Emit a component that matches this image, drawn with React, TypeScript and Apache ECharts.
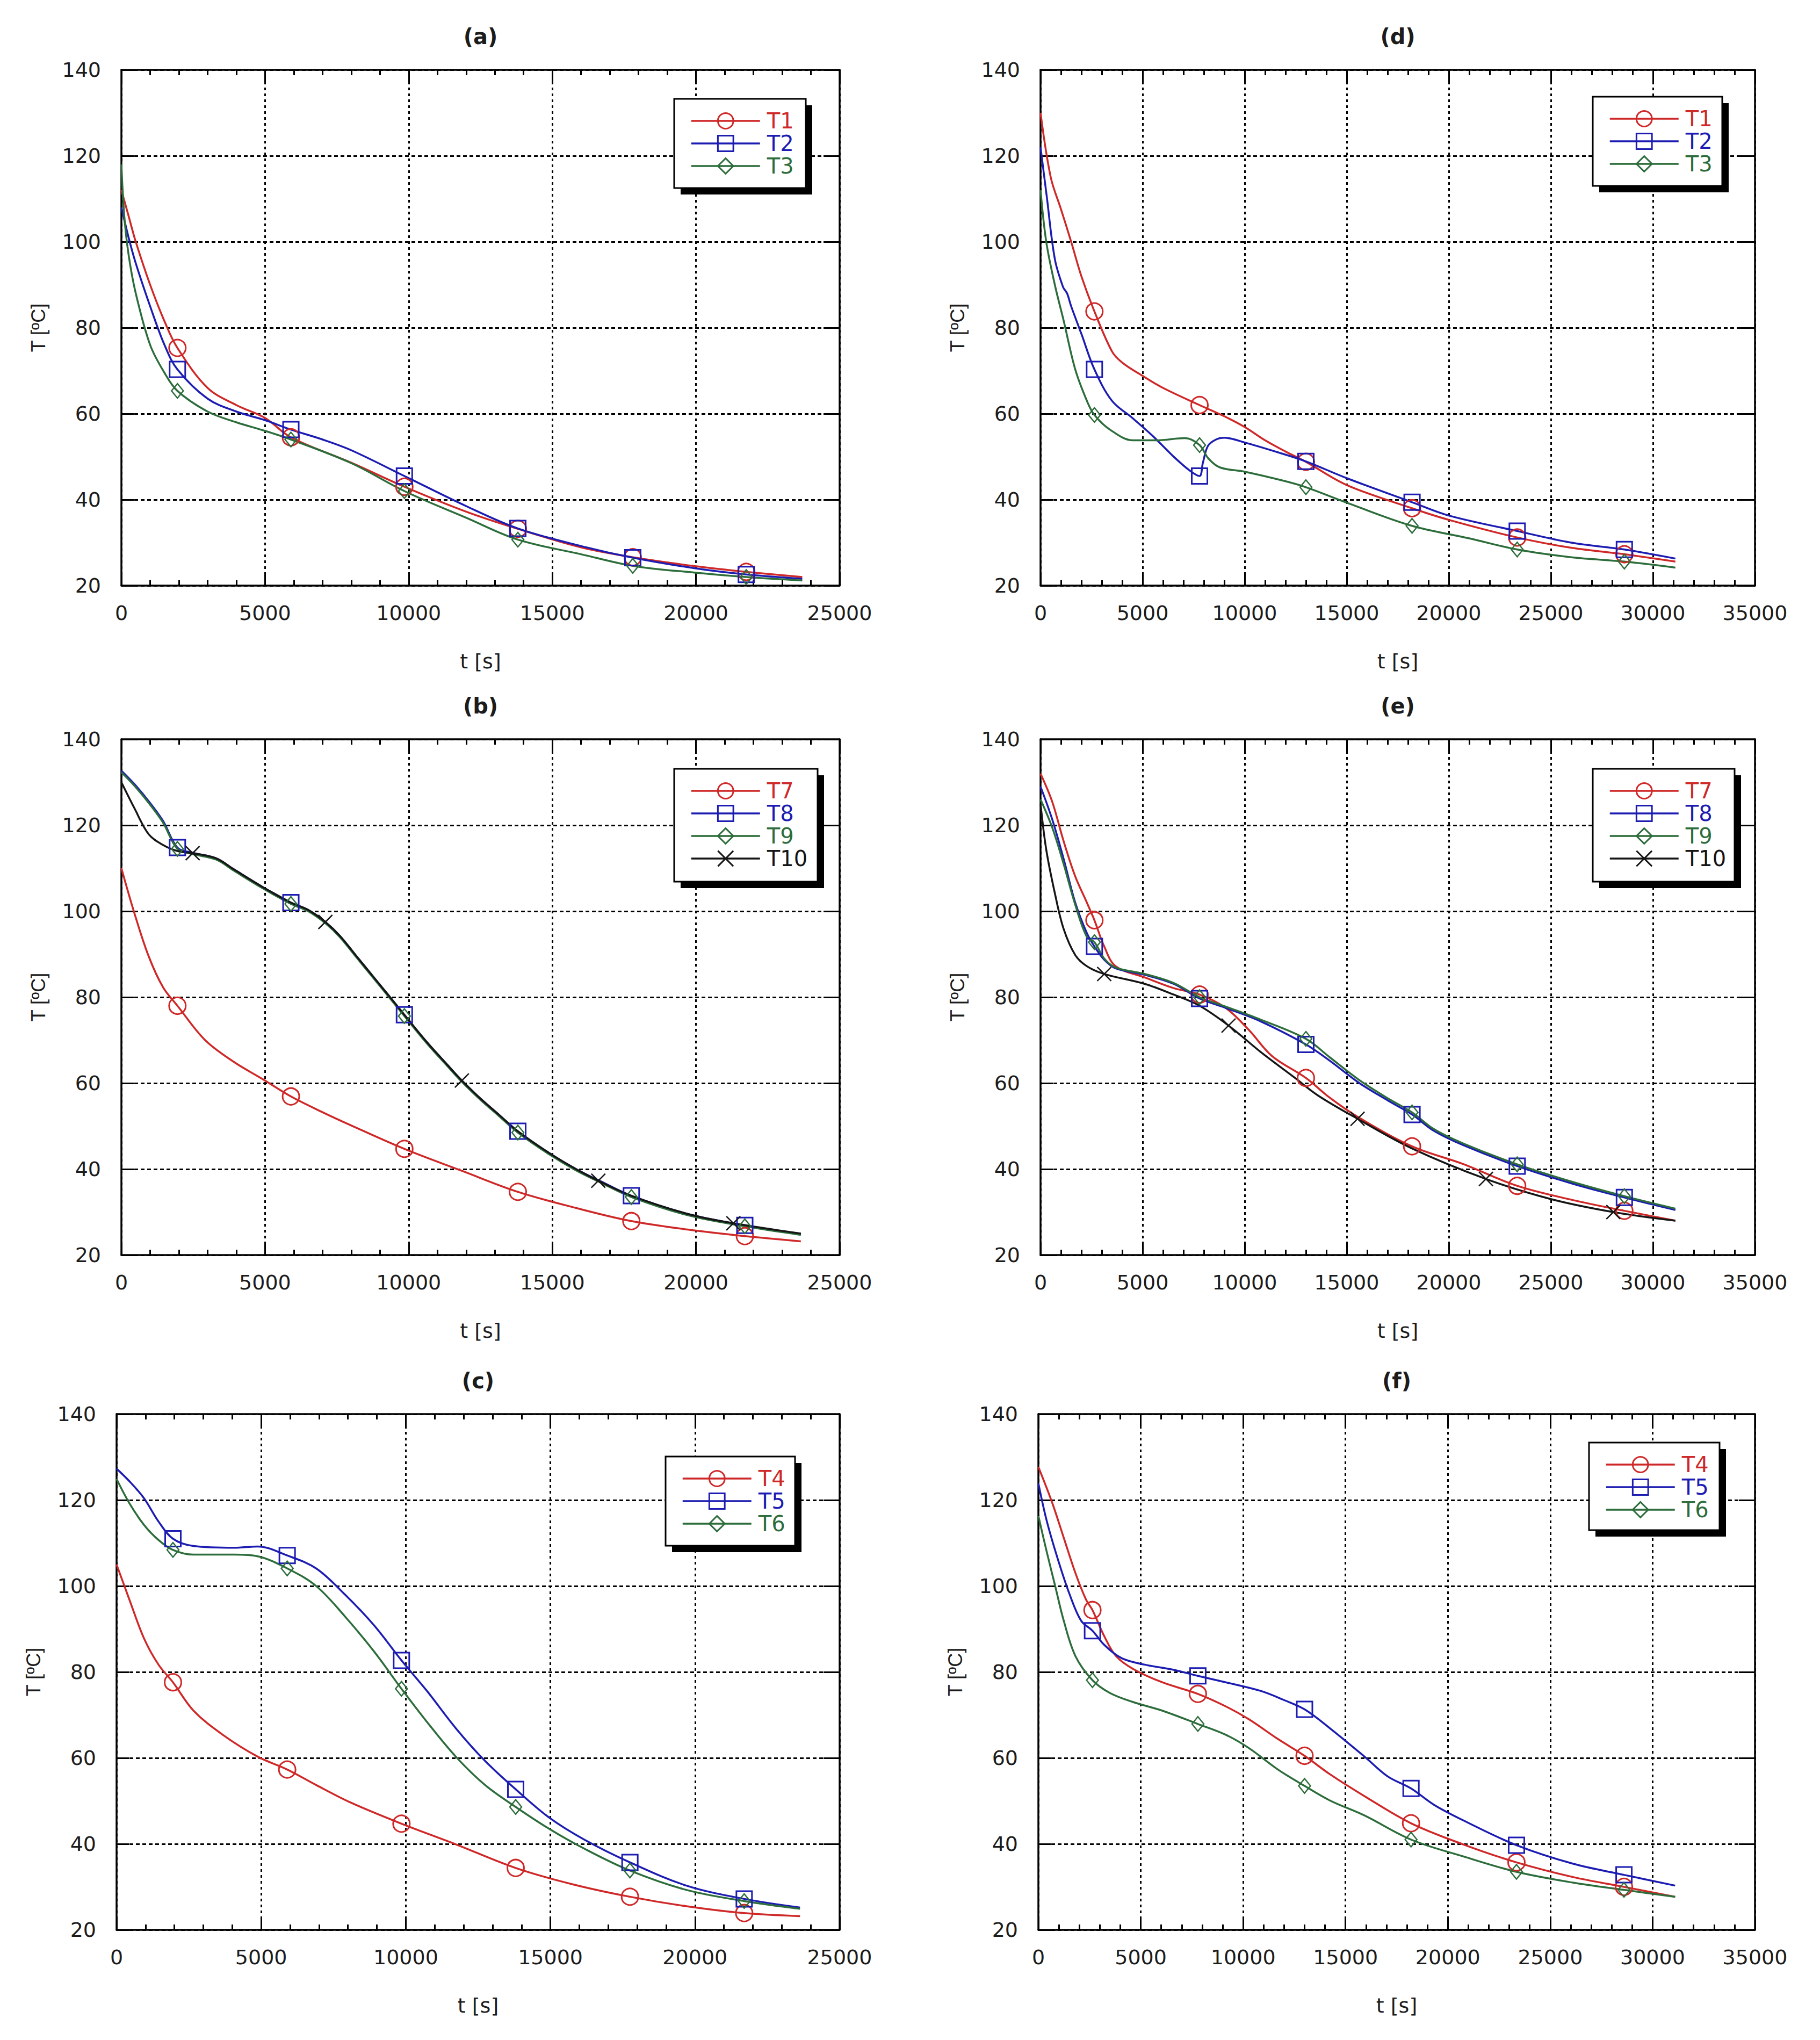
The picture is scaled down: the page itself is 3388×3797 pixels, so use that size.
import React, { useEffect, useRef } from "react";
import * as echarts from "echarts";

// ---------- panel (a) ----------
const A_MARK = [1950, 5900, 9850, 13800, 17800, 21750];
const A_T1_t = [0, 250, 500, 1000, 1500, 1950, 3000, 4000, 5000, 5900, 8000, 9850, 12000, 13800, 16000, 17800, 20000, 21750, 23700];
const A_T1 = [112, 106, 100, 90, 81.5, 75.3, 66, 62, 59, 54.5, 48.6, 43, 37.2, 33.2, 28.9, 26.6, 24.5, 23.2, 22];
const A_T2_t = [0, 250, 500, 1000, 1500, 1950, 3000, 4000, 5000, 5900, 7000, 8000, 9850, 12000, 13800, 16000, 17800, 20000, 21750, 23700];
const A_T2 = [108, 101, 95, 85, 76, 70.3, 63.5, 60.5, 58.5, 56.3, 54, 51.5, 45.5, 38.5, 33.3, 29.2, 26.5, 24, 22.6, 21.6];
const A_T3_t = [0, 100, 250, 500, 1000, 1500, 1950, 3000, 4000, 5000, 5900, 8000, 9850, 12000, 13800, 16000, 17800, 20000, 21750, 23700];
const A_T3 = [118, 106, 97, 88, 76, 69.5, 65.3, 60.5, 58, 56, 54, 48.5, 42, 35.8, 30.7, 27.3, 24.6, 23, 22, 21.2];

// ---------- panel (d) ----------
const D_MARK = [2640, 7790, 13000, 18200, 23350, 28600];
const D_T1_t = [0, 500, 1000, 1500, 2000, 2640, 3500, 4000, 5000, 6000, 7790, 9000, 10000, 11000, 12000, 13000, 15000, 18200, 20000, 23350, 26000, 28600, 31100];
const D_T1 = [130, 115, 107.6, 100, 92, 83.8, 74.5, 71.9, 68.8, 66, 62, 59.4, 56.9, 53.8, 51.2, 48.8, 43.4, 38, 35.3, 31.2, 28.8, 27.3, 25.6];
const D_T2_t = [0, 300, 700, 1100, 1300, 1500, 2000, 2640, 3500, 4500, 5500, 6500, 7300, 7790, 7950, 8200, 8600, 9000, 10000, 11500, 13000, 15000, 18200, 20000, 23350, 26000, 28600, 31100];
const D_T2 = [122, 110.7, 96, 89.5, 88, 85, 78.6, 70.3, 63, 59, 54.8, 50.1, 46.8, 45.5, 48.5, 52.5, 54, 54.4, 53.3, 51.2, 48.9, 45, 39.4, 36.3, 32.7, 30, 28.4, 26.3];
const D_T3_t = [0, 280, 700, 1130, 1700, 2270, 2640, 3400, 4530, 5670, 7080, 7790, 8220, 8790, 10000, 11900, 13000, 15000, 18200, 21000, 23350, 26000, 28600, 31100];
const D_T3 = [112, 100, 90, 81.7, 70.3, 63, 59.7, 56.3, 53.8, 53.8, 54.3, 52.7, 49.6, 47.5, 46.5, 44.4, 42.9, 39.3, 33.9, 31, 28.4, 26.6, 25.6, 24.2];

// ---------- panel (b) ----------
const B_MARK = [1950, 5900, 9850, 13800, 17750, 21700];
const B_T10_MARK = [2480, 7100, 11850, 16600, 21300];
const B_T7_t = [0, 450, 950, 1450, 1950, 2900, 3900, 4900, 5900, 6950, 7950, 9850, 11850, 13800, 15800, 17750, 19750, 21700, 23650];
const B_T7 = [110, 99.6, 89.5, 82.3, 78, 70.1, 65, 61, 56.9, 53.4, 50.3, 44.7, 39.6, 34.7, 31, 27.9, 25.9, 24.4, 23.2];
const B_T8_t = [0, 450, 950, 1450, 1950, 2480, 3300, 3900, 4900, 5900, 6500, 7100, 7600, 8200, 8800, 9400, 9850, 10600, 11300, 11850, 12500, 13150, 13800, 14900, 15800, 16700, 17750, 19750, 21700, 23650];
const B_T8 = [132.7, 129.6, 125.6, 121, 114.8, 113.6, 112.3, 109.8, 105.7, 102, 100.3, 97.5, 94.3, 89.4, 84.5, 79.6, 75.9, 69.8, 64.6, 60.6, 56.4, 52.6, 48.8, 43.7, 40.1, 37.1, 33.8, 29.5, 26.9, 24.9];
const B_T9_t = [0, 450, 950, 1450, 1950, 2480, 3300, 3900, 4900, 5900, 6500, 7100, 7600, 8200, 8800, 9400, 9850, 10600, 11300, 11850, 12500, 13150, 13800, 14900, 15800, 16700, 17750, 19750, 21700, 23650];
const B_T9 = [132.3, 129.2, 125.2, 120.6, 114.5, 113.3, 112.0, 109.5, 105.4, 101.7, 100.0, 97.2, 94.0, 89.1, 84.2, 79.3, 75.6, 69.5, 64.3, 60.3, 56.1, 52.3, 48.5, 43.4, 39.8, 36.8, 33.5, 29.2, 26.7, 24.7];
const B_T10_t = [0, 450, 950, 1450, 1950, 2480, 3300, 3900, 4900, 5900, 6500, 7100, 7600, 8200, 8800, 9400, 9850, 10600, 11300, 11850, 12500, 13150, 13800, 14900, 15800, 16600, 17750, 19750, 21300, 23650];
const B_T10 = [130, 124, 117.9, 115.4, 114, 113.5, 112.3, 109.8, 105.7, 102, 100.3, 97.5, 94.3, 89.4, 84.5, 79.6, 75.9, 69.8, 64.6, 60.6, 56.4, 52.6, 48.8, 43.7, 40.1, 37.3, 33.8, 29.5, 27.4, 25];

// ---------- panel (e) ----------
const E_MARK = [2640, 7790, 13000, 18200, 23350, 28600];
const E_T10_MARK = [3120, 9210, 15530, 21820, 28060];
const E_T7_t = [0, 570, 1130, 1700, 2270, 2640, 3120, 3680, 5100, 6520, 7790, 9070, 10200, 11340, 13000, 14170, 15590, 18200, 20690, 23350, 26070, 28600, 31100];
const E_T7 = [132, 125.5, 116.3, 108.1, 102, 97.9, 91.8, 87.2, 84.6, 82.1, 80.6, 77.5, 72.4, 66.3, 61.2, 56.6, 52, 45.3, 41.2, 36.1, 32.8, 30.3, 28];
const E_T8_t = [0, 570, 1130, 1700, 2270, 2640, 3120, 3680, 5100, 6520, 7790, 9070, 10770, 13000, 14170, 15590, 17000, 18200, 19270, 20690, 23350, 26070, 28600, 31100];
const E_T8 = [129, 121.4, 112.2, 102, 94.9, 91.8, 88.7, 86.7, 85.2, 83.1, 79.7, 77.5, 74.4, 69, 65.2, 60.1, 56, 52.7, 48.9, 45.6, 40.7, 36.6, 33.4, 30.5];
const E_T9_t = [0, 570, 1130, 1700, 2270, 2640, 3120, 3680, 5100, 6520, 7790, 9070, 10770, 13000, 14170, 15590, 17000, 18200, 19270, 20690, 23350, 26070, 28600, 31100];
const E_T9 = [126, 119.5, 111, 101.5, 94, 92.8, 89, 86.9, 85.4, 83.3, 80, 77.8, 74.8, 70.3, 66, 60.8, 56.5, 53.2, 49.3, 46, 41.1, 37, 33.7, 30.8];
const E_T10_t = [0, 280, 710, 1130, 1700, 2270, 3120, 5100, 6520, 7790, 9210, 10770, 12470, 13600, 15530, 18200, 21820, 24940, 28060, 31100];
const E_T10 = [125, 114.3, 104, 95.9, 89.8, 87.2, 85.4, 83.1, 80.6, 78, 73.4, 67.3, 61.2, 57.1, 51.7, 44.8, 37.7, 33.1, 30, 28];

// ---------- panel (c) ----------
const C_MARK = [1950, 5900, 9850, 13800, 17750, 21700];
const C_T4_t = [0, 440, 950, 1450, 1950, 2660, 3670, 4880, 5900, 6900, 8100, 9850, 11730, 13800, 15770, 17750, 19700, 21700, 23630];
const C_T4 = [105, 96.9, 87.8, 81.7, 77.6, 71, 65.4, 60.3, 57.3, 53.7, 49.6, 44.7, 39.9, 34.4, 30.6, 27.7, 25.5, 23.9, 23.2];
const C_T5_t = [0, 440, 950, 1450, 1950, 2660, 4070, 4880, 5900, 6900, 7900, 8910, 9850, 10730, 11730, 12740, 13800, 14960, 16170, 17750, 19700, 21700, 23630];
const C_T5 = [127.3, 124.4, 120.4, 115, 111, 109.3, 108.9, 109.2, 107.1, 104.1, 98, 90.8, 82.7, 75.6, 66.9, 59.3, 52.7, 46.1, 41, 35.7, 30.3, 27.2, 25.2];
const C_T6_t = [0, 440, 950, 1450, 1950, 2660, 4070, 4880, 5900, 6900, 7900, 8910, 9850, 10730, 11730, 12740, 13800, 14960, 16170, 17750, 19700, 21700, 23630];
const C_T6 = [124.9, 119.3, 114.2, 110.7, 108.4, 107.3, 107.3, 106.9, 104.1, 100, 92.9, 84.7, 76.1, 68.4, 60.3, 53.7, 48.6, 43.5, 38.9, 33.8, 29.3, 26.7, 24.9];

// ---------- panel (f) ----------
const F_MARK = [2640, 7790, 13000, 18200, 23350, 28600];
const F_T4_t = [0, 680, 1240, 1810, 2320, 2640, 3220, 3790, 4630, 6050, 7790, 9150, 10280, 11700, 13000, 14240, 15930, 18200, 20740, 23350, 26100, 28600, 31100];
const F_T4 = [127.7, 119.3, 111.2, 103, 96.9, 94.4, 88.3, 83.7, 80.7, 77.6, 74.9, 72, 69, 64.4, 60.5, 56.2, 51.1, 44.8, 39.9, 35.7, 32.3, 30, 27.7];
const F_T5_t = [0, 400, 960, 1530, 2090, 2640, 3220, 4070, 5200, 6610, 7790, 9150, 10850, 11980, 13000, 14240, 15930, 17060, 18200, 19320, 20740, 23350, 26100, 28600, 31100];
const F_T5 = [123.9, 115.3, 106.1, 98, 91.9, 89.6, 86.3, 83.2, 81.7, 80.5, 79.1, 77.6, 75.6, 73.5, 71.3, 66.9, 60.3, 55.7, 52.9, 49.1, 45.5, 39.7, 35.4, 32.8, 30.3];
const F_T6_t = [0, 400, 820, 1240, 1810, 2640, 3500, 4630, 6050, 7790, 9150, 10280, 11700, 13000, 14240, 15930, 18200, 20740, 23350, 26100, 28600, 31100];
const F_T6 = [116.3, 108.1, 100, 91.9, 83.7, 78.1, 75.1, 73, 71, 67.9, 65.4, 62.3, 57.3, 53.5, 50.1, 46.6, 41, 37.1, 33.5, 31, 29.3, 27.7];

// ---------- axes ----------
const X_MAX_LEFT = 25000;
const X_MAX_RIGHT = 35000;
const X_STEP = 5000;
const Y_MIN = 20;
const Y_MAX = 140;
const Y_STEP = 20;

// ---------- style ----------
const RED = "#cf2828";
const BLUE = "#1c1cb2";
const GREEN = "#2d6d3b";
const BLACK = "#151515";
const TXT = "#1c1c1c";
const FONT = "'DejaVu Sans', 'Liberation Sans', Arial, sans-serif";

const SYM: Record<string, { symbol: string; size: any; bw: number }> = {
  circle: { symbol: "circle", size: 31, bw: 3 },
  rect: { symbol: "rect", size: 29, bw: 3 },
  diamond: { symbol: "diamond", size: [22, 27], bw: 2.5 },
  cross: { symbol: "path://M0,0L10,10M10,0L0,10", size: 26, bw: 2.5 },
};

type SDef = { name: string; color: string; sym: string; t: number[]; v: number[]; marks: number[] };
type PDef = {
  title: string;
  left: number;
  top: number;
  width: number;
  xmax: number;
  box: [number, number, number, number];
  series: SDef[];
};

const ROW_TOPS = [130, 1376, 2632];
const H = 960;

const PANELS: PDef[] = [
  {
    title: "(a)", left: 226, top: ROW_TOPS[0], width: 1337, xmax: X_MAX_LEFT,
    box: [1255, 184, 245, 166],
    series: [
      { name: "T1", color: RED, sym: "circle", t: A_T1_t, v: A_T1, marks: A_MARK },
      { name: "T2", color: BLUE, sym: "rect", t: A_T2_t, v: A_T2, marks: A_MARK },
      { name: "T3", color: GREEN, sym: "diamond", t: A_T3_t, v: A_T3, marks: A_MARK },
    ],
  },
  {
    title: "(d)", left: 1937, top: ROW_TOPS[0], width: 1330, xmax: X_MAX_RIGHT,
    box: [2965, 180, 241, 166],
    series: [
      { name: "T1", color: RED, sym: "circle", t: D_T1_t, v: D_T1, marks: D_MARK },
      { name: "T2", color: BLUE, sym: "rect", t: D_T2_t, v: D_T2, marks: D_MARK },
      { name: "T3", color: GREEN, sym: "diamond", t: D_T3_t, v: D_T3, marks: D_MARK },
    ],
  },
  {
    title: "(b)", left: 226, top: ROW_TOPS[1], width: 1337, xmax: X_MAX_LEFT,
    box: [1255, 1431, 267, 210],
    series: [
      { name: "T7", color: RED, sym: "circle", t: B_T7_t, v: B_T7, marks: B_MARK },
      { name: "T8", color: BLUE, sym: "rect", t: B_T8_t, v: B_T8, marks: B_MARK },
      { name: "T9", color: GREEN, sym: "diamond", t: B_T9_t, v: B_T9, marks: B_MARK },
      { name: "T10", color: BLACK, sym: "cross", t: B_T10_t, v: B_T10, marks: B_T10_MARK },
    ],
  },
  {
    title: "(e)", left: 1937, top: ROW_TOPS[1], width: 1330, xmax: X_MAX_RIGHT,
    box: [2965, 1431, 264, 210],
    series: [
      { name: "T7", color: RED, sym: "circle", t: E_T7_t, v: E_T7, marks: E_MARK },
      { name: "T8", color: BLUE, sym: "rect", t: E_T8_t, v: E_T8, marks: E_MARK },
      { name: "T9", color: GREEN, sym: "diamond", t: E_T9_t, v: E_T9, marks: E_MARK },
      { name: "T10", color: BLACK, sym: "cross", t: E_T10_t, v: E_T10, marks: E_T10_MARK },
    ],
  },
  {
    title: "(c)", left: 217, top: ROW_TOPS[2], width: 1346, xmax: X_MAX_LEFT,
    box: [1239, 2711, 241, 166],
    series: [
      { name: "T4", color: RED, sym: "circle", t: C_T4_t, v: C_T4, marks: C_MARK },
      { name: "T5", color: BLUE, sym: "rect", t: C_T5_t, v: C_T5, marks: C_MARK },
      { name: "T6", color: GREEN, sym: "diamond", t: C_T6_t, v: C_T6, marks: C_MARK },
    ],
  },
  {
    title: "(f)", left: 1933, top: ROW_TOPS[2], width: 1334, xmax: X_MAX_RIGHT,
    box: [2958, 2685, 243, 163],
    series: [
      { name: "T4", color: RED, sym: "circle", t: F_T4_t, v: F_T4, marks: F_MARK },
      { name: "T5", color: BLUE, sym: "rect", t: F_T5_t, v: F_T5, marks: F_MARK },
      { name: "T6", color: GREEN, sym: "diamond", t: F_T6_t, v: F_T6, marks: F_MARK },
    ],
  },
];

function buildOption() {
  const grid: any[] = [];
  const xAxis: any[] = [];
  const yAxis: any[] = [];
  const series: any[] = [];
  const legend: any[] = [];
  const graphic: any[] = [];

  const axisLine = { show: true, onZero: false, lineStyle: { color: "#000", width: 3.5 } };

  PANELS.forEach((p, i) => {
    grid.push({ left: p.left, top: p.top, width: p.width, height: H, containLabel: false });

    xAxis.push({
      gridIndex: i, type: "value", position: "bottom", min: 0, max: p.xmax, interval: X_STEP,
      axisLine,
      axisTick: { show: true, inside: true, length: 25, lineStyle: { color: "#000", width: 3 } },
      minorTick: { show: true, splitNumber: 5, length: 10, lineStyle: { color: "#000", width: 3 } },
      axisLabel: { show: true, margin: 32, fontSize: 38, fontFamily: FONT, color: TXT, formatter: (v: number) => String(v) },
      splitLine: { show: true, lineStyle: { color: "#000", width: 3, type: [5, 6] } },
      name: "t [s]", nameLocation: "middle", nameGap: 122,
      nameTextStyle: { fontSize: 38, fontFamily: FONT, color: TXT },
    });
    xAxis.push({
      gridIndex: i, type: "value", position: "top", min: 0, max: p.xmax, interval: X_STEP,
      axisLine,
      axisTick: { show: true, inside: true, length: 25, lineStyle: { color: "#000", width: 3 } },
      minorTick: { show: true, splitNumber: 5, length: 10, lineStyle: { color: "#000", width: 3 } },
      axisLabel: { show: false },
      splitLine: { show: false },
    });
    yAxis.push({
      gridIndex: i, type: "value", position: "left", min: Y_MIN, max: Y_MAX, interval: Y_STEP,
      axisLine,
      axisTick: { show: true, inside: true, length: 23, lineStyle: { color: "#000", width: 3 } },
      axisLabel: { show: true, margin: 38, fontSize: 38, fontFamily: FONT, color: TXT },
      splitLine: { show: true, lineStyle: { color: "#000", width: 3, type: [7, 5] } },
      name: "T [ºC]", nameLocation: "middle", nameGap: 137, nameRotate: 90,
      nameTextStyle: { fontSize: 36, fontFamily: "'Liberation Sans', Arial, sans-serif", color: TXT },
    });
    yAxis.push({
      gridIndex: i, type: "value", position: "right", min: Y_MIN, max: Y_MAX, interval: Y_STEP,
      axisLine,
      axisTick: { show: true, inside: true, length: 30, lineStyle: { color: "#000", width: 3 } },
      axisLabel: { show: false },
      splitLine: { show: false },
    });

    p.series.forEach((s) => {
      const sy = SYM[s.sym];
      series.push({
        type: "line",
        name: s.name,
        xAxisIndex: 2 * i,
        yAxisIndex: 2 * i,
        data: s.t.map((t, k) =>
          s.marks.includes(t) ? { value: [t, s.v[k]] } : { value: [t, s.v[k]], symbol: "none" }
        ),
        symbol: sy.symbol,
        symbolSize: sy.size,
        showSymbol: true,
        showAllSymbol: true,
        smooth: 0.35,
        lineStyle: { color: s.color, width: 3.5 },
        itemStyle: { color: "rgba(255,255,255,0)", borderColor: s.color, borderWidth: sy.bw },
        emphasis: { disabled: true },
        silent: true,
        z: 3,
      });
    });

    const [bx, by, bw, bh] = p.box;
    graphic.push({ type: "rect", z: 15, shape: { x: bx + 12, y: by + 12, width: bw, height: bh }, style: { fill: "#000" } });
    graphic.push({ type: "rect", z: 16, shape: { x: bx, y: by, width: bw, height: bh }, style: { fill: "#fff", stroke: "#000", lineWidth: 3 } });

    legend.push({
      orient: "vertical",
      left: bx + 30,
      top: by + 21,
      padding: 0,
      itemWidth: 128,
      itemHeight: 36,
      itemGap: 2,
      selectedMode: false,
      z: 20,
      data: p.series.map((s) => ({ name: s.name, textStyle: { color: s.color } })),
      textStyle: { fontSize: 40, lineHeight: 36, fontFamily: FONT, padding: [0, 0, 0, 8] },
      itemStyle: { borderWidth: 3 },
      lineStyle: { width: 3.5 },
    });

    graphic.push({
      type: "text",
      z: 20,
      x: p.left + p.width / 2,
      y: p.top - 62,
      style: {
        text: p.title,
        fill: TXT,
        fontSize: 40,
        fontWeight: "bold",
        fontFamily: FONT,
        align: "center",
        verticalAlign: "middle",
        textAlign: "center",
        textVerticalAlign: "middle",
      },
    });
  });

  return {
    animation: false,
    backgroundColor: "#ffffff",
    grid,
    xAxis,
    yAxis,
    series,
    legend,
    graphic,
  };
}

export default function App() {
  const ref = useRef<HTMLDivElement>(null);
  useEffect(() => {
    if (!ref.current) return;
    const chart = echarts.init(ref.current, undefined, { renderer: "svg" });
    chart.setOption(buildOption() as any);
    return () => chart.dispose();
  }, []);
  return (
    <div
      ref={ref}
      style={{ position: "absolute", left: 0, top: 0, width: 3388, height: 3797, background: "#fff" }}
    />
  );
}
